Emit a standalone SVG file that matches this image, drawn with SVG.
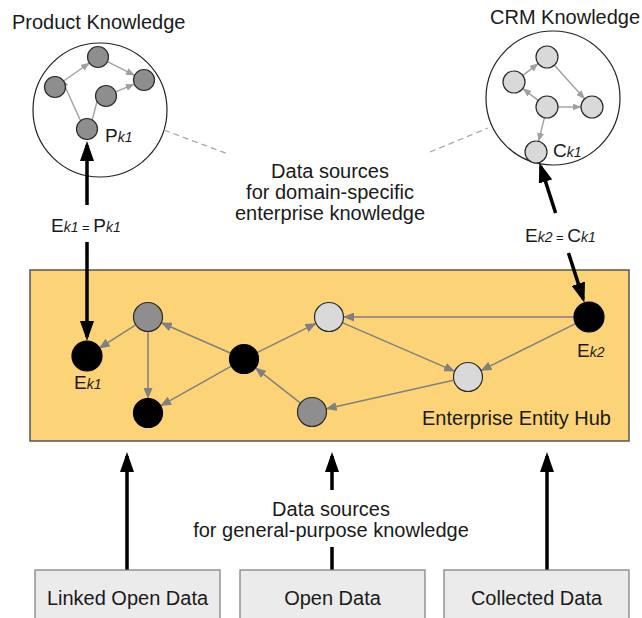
<svg xmlns="http://www.w3.org/2000/svg" width="642" height="618" viewBox="0 0 642 618">
<style>
text{font-family:"Liberation Sans",Arial,sans-serif;fill:#1a1a1a}
.t{font-size:20px}
.sub{font-size:14px;font-style:italic}
.lab{font-size:19px}
.eq{font-size:13px}
.big{stroke:#000;stroke-width:3.5;fill:none}
.he{stroke:#808080;stroke-width:1.5;fill:none}
.pe{stroke:#a0a0a0;stroke-width:1.4;fill:none}
.dash{stroke:#aaaaaa;stroke-width:1.3;stroke-dasharray:6 4;fill:none}
.blk{fill:#000;stroke:#000;stroke-width:1.2}
.dg{fill:#8e8e8e;stroke:#2a2a2a;stroke-width:1.2}
.lg{fill:#d9d9d9;stroke:#2a2a2a;stroke-width:1.2}
.src{fill:#ebebeb;stroke:#7a7a7a;stroke-width:1.2}
</style>
<defs>
<marker id="bigA" viewBox="0 0 20 14" markerWidth="20" markerHeight="14" refX="16" refY="7" orient="auto-start-reverse" markerUnits="userSpaceOnUse"><path d="M0,0 L20,7 L0,14 z" fill="#000"/></marker>
<marker id="hA" viewBox="0 0 11 9" markerWidth="11" markerHeight="9" refX="10" refY="4.5" orient="auto" markerUnits="userSpaceOnUse"><path d="M0,0 L11,4.5 L0,9 z" fill="#808080"/></marker>
<marker id="pA" viewBox="0 0 9 7" markerWidth="9" markerHeight="7" refX="8.5" refY="3.5" orient="auto" markerUnits="userSpaceOnUse"><path d="M0,0 L9,3.5 L0,7 z" fill="#a0a0a0"/></marker>
</defs>

<g id="hub">
<rect x="30" y="270" width="599" height="171" fill="#fcd477" stroke="#555" stroke-width="1.5"/>
<text class="t" x="422" y="425">Enterprise Entity Hub</text>
</g>

<g id="product-knowledge">
<circle cx="100" cy="110" r="67" fill="#fff" stroke="#222" stroke-width="1.2"/>
<text class="t" x="12" y="29">Product Knowledge</text>
</g>

<g id="crm-knowledge">
<circle cx="553" cy="98" r="67" fill="#fff" stroke="#222" stroke-width="1.2"/>
<text class="t" x="490" y="24">CRM Knowledge</text>
</g>

<g id="connectors">
<!-- product graph -->
<line class="pe" x1="63.6" y1="81" x2="89.4" y2="63" marker-end="url(#pA)"/>
<line class="pe" x1="107.4" y1="61.7" x2="134.6" y2="75.3" marker-end="url(#pA)"/>
<line class="pe" x1="115.7" y1="91.9" x2="134.3" y2="84.1" marker-end="url(#pA)"/>
<line class="pe" x1="80.6" y1="120.7" x2="61.4" y2="78.7" marker-end="url(#pA)"/>
<line class="pe" x1="92.2" y1="119.9" x2="100.8" y2="87" marker-end="url(#pA)"/>
<!-- crm graph -->
<line class="pe" x1="522.8" y1="75.4" x2="538.2" y2="63.6" marker-end="url(#pA)"/>
<line class="pe" x1="554.4" y1="65.2" x2="584.6" y2="98.8" marker-end="url(#pA)"/>
<line class="pe" x1="538.2" y1="100.4" x2="522.8" y2="88.6" marker-end="url(#pA)"/>
<line class="pe" x1="558" y1="107" x2="581" y2="107" marker-end="url(#pA)"/>
<line class="pe" x1="544.4" y1="117.7" x2="538.6" y2="141.3" marker-end="url(#pA)"/>
<!-- hub graph -->
<line class="he" x1="135.4" y1="325.1" x2="99.6" y2="347.9" marker-end="url(#hA)"/>
<line class="he" x1="148" y1="332" x2="148" y2="398" marker-end="url(#hA)"/>
<line class="he" x1="230.3" y1="353" x2="161.7" y2="323" marker-end="url(#hA)"/>
<line class="he" x1="230.9" y1="366.4" x2="161.1" y2="405.6" marker-end="url(#hA)"/>
<line class="he" x1="257.5" y1="352.4" x2="315.5" y2="323.6" marker-end="url(#hA)"/>
<line class="he" x1="300.2" y1="402.8" x2="255.8" y2="368.2" marker-end="url(#hA)"/>
<line class="he" x1="342.8" y1="322.9" x2="454.2" y2="371.1" marker-end="url(#hA)"/>
<line class="he" x1="574" y1="317" x2="344" y2="317" marker-end="url(#hA)"/>
<line class="he" x1="575.6" y1="323.7" x2="481.4" y2="370.3" marker-end="url(#hA)"/>
<line class="he" x1="453.4" y1="380.3" x2="326.6" y2="408.7" marker-end="url(#hA)"/>
<!-- dashed -->
<line class="dash" x1="164" y1="130" x2="228" y2="154"/>
<line class="dash" x1="430" y1="152" x2="488" y2="128"/>
<!-- big arrows -->
<line class="big" x1="87" y1="145" x2="87" y2="205" marker-start="url(#bigA)"/>
<line class="big" x1="87" y1="242" x2="87" y2="337" marker-end="url(#bigA)"/>
<line class="big" x1="540.6" y1="166.3" x2="555.6" y2="213" marker-start="url(#bigA)"/>
<line class="big" x1="568.5" y1="253" x2="583.2" y2="298.9" marker-end="url(#bigA)"/>
<line class="big" x1="127" y1="570" x2="127" y2="456" marker-end="url(#bigA)"/>
<line class="big" x1="332" y1="490" x2="332" y2="456" marker-end="url(#bigA)"/>
<line class="big" x1="332" y1="570" x2="332" y2="547"/>
<line class="big" x1="547" y1="570" x2="547" y2="456" marker-end="url(#bigA)"/>
</g>

<g id="product-nodes">
<circle id="p-top" class="dg" cx="98" cy="57" r="10.5"/>
<circle id="p-left" class="dg" cx="55" cy="87" r="10.5"/>
<circle id="p-right" class="dg" cx="144" cy="80" r="10.5"/>
<circle id="p-mid" class="dg" cx="106" cy="96" r="10.5"/>
<g id="pk1"><circle class="dg" cx="87" cy="129" r="10.5"/>
<text class="lab" x="105" y="142">P<tspan class="sub">k1</tspan></text></g>
</g>

<g id="crm-nodes">
<circle id="c-top" class="lg" cx="547" cy="57" r="11"/>
<circle id="c-left" class="lg" cx="514" cy="82" r="11"/>
<circle id="c-mid" class="lg" cx="547" cy="107" r="11"/>
<circle id="c-right" class="lg" cx="592" cy="107" r="11"/>
<g id="ck1"><circle class="lg" cx="536" cy="152" r="11"/>
<text class="lab" x="553" y="157">C<tspan class="sub">k1</tspan></text></g>
</g>

<g id="hub-nodes">
<g id="ek1"><circle class="blk" cx="87" cy="356" r="15"/>
<text class="lab" x="74" y="389">E<tspan class="sub">k1</tspan></text></g>
<circle id="h-b" class="dg" cx="148" cy="317" r="14.5"/>
<circle id="h-c" class="blk" cx="148" cy="413" r="14.5"/>
<circle id="h-d" class="blk" cx="244" cy="359" r="14.5"/>
<circle id="h-f" class="lg" cx="329" cy="317" r="14.5"/>
<circle id="h-g" class="dg" cx="312" cy="412" r="14.5"/>
<circle id="h-h" class="lg" cx="468" cy="377" r="14.5"/>
<g id="ek2"><circle class="blk" cx="589" cy="317" r="15"/>
<text class="lab" x="577" y="357">E<tspan class="sub">k2</tspan></text></g>
</g>

<g id="labels">
<text class="lab" x="51" y="232">E<tspan class="sub">k1</tspan><tspan class="eq"> = </tspan>P<tspan class="sub">k1</tspan></text>
<text class="lab" x="525" y="242">E<tspan class="sub">k2</tspan><tspan class="eq"> = </tspan>C<tspan class="sub">k1</tspan></text>
<text class="t" text-anchor="middle" x="330" y="178">Data sources</text>
<text class="t" text-anchor="middle" x="330" y="199">for domain-specific</text>
<text class="t" text-anchor="middle" x="330" y="220">enterprise knowledge</text>
<text class="t" text-anchor="middle" x="331" y="516">Data sources</text>
<text class="t" text-anchor="middle" x="331" y="537">for general-purpose knowledge</text>
</g>

<g id="linked-open-data">
<rect class="src" x="35" y="570" width="185" height="60"/>
<text class="t" text-anchor="middle" x="127.5" y="605">Linked Open Data</text>
</g>
<g id="open-data">
<rect class="src" x="240" y="570" width="185" height="60"/>
<text class="t" text-anchor="middle" x="332.5" y="605">Open Data</text>
</g>
<g id="collected-data">
<rect class="src" x="444" y="570" width="185" height="60"/>
<text class="t" text-anchor="middle" x="536.5" y="605">Collected Data</text>
</g>
</svg>
